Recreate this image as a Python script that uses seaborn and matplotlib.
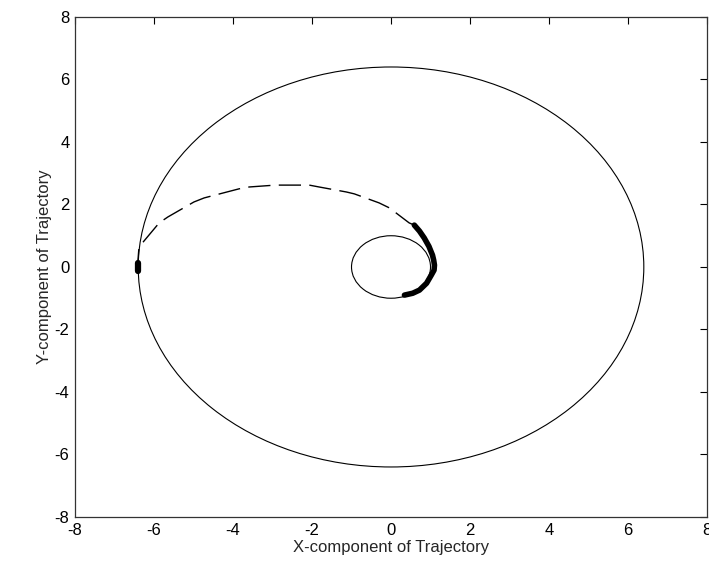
import matplotlib
matplotlib.use("Agg")
import matplotlib.pyplot as plt
import seaborn as sns
import numpy as np
import pandas as pd
from matplotlib.patches import Circle

sns.set_theme(style="white")
plt.rcParams['font.family'] = ['Liberation Sans', 'DejaVu Sans']
plt.rcParams['axes.unicode_minus'] = False

# Orbit radii
outer_radius = 6.4
inner_radius = 1.0

# Transfer trajectory, ordered from inner orbit outward
traj_x = [0.34, 0.55, 0.72, 0.90, 1.02, 1.09, 1.10, 1.08, 1.05, 0.96, 0.84,
          0.72, 0.59, 0.46, -0.04, -0.30, -0.93,
          -1.13, -1.82, -2.07, -2.93, -3.59, -3.85, -4.73, -4.99, -5.65, -5.87,
          -6.38, -6.42]
traj_y = [-0.90, -0.84, -0.74, -0.52, -0.26, -0.10, 0.06, 0.22, 0.38, 0.66, 0.93,
          1.15, 1.34, 1.41, 1.89, 2.05, 2.34,
          2.40, 2.56, 2.62, 2.62, 2.56, 2.50, 2.21, 2.08, 1.60, 1.41,
          0.64, 0.0]
n_thick = 13  # dense portion near the inner orbit

# Arrival point marker
arr_x = [-6.4, -6.4]
arr_y = [-0.12, 0.12]

traj = pd.DataFrame({"x": traj_x, "y": traj_y, "i": range(len(traj_x))})

fig = plt.figure(figsize=(7.09, 5.72), dpi=100)
ax = fig.add_axes([0.1058, 0.0962, 0.8914, 0.8741])

ax.add_patch(Circle((0, 0), outer_radius, fill=False, color="black", lw=0.8))
ax.add_patch(Circle((0, 0), inner_radius, fill=False, color="black", lw=0.8))

sns.lineplot(data=traj, x="x", y="y", sort=False, estimator=None, ax=ax,
             color="black", lw=1.0, dashes=False, linestyle=(0, (16, 6)))
sns.lineplot(data=traj.iloc[:n_thick], x="x", y="y", sort=False, estimator=None,
             ax=ax, color="black", lw=4.0, solid_capstyle="round",
             solid_joinstyle="round")
ax.plot(arr_x, arr_y, color="black", lw=4.5, solid_capstyle="round")

ax.set_xlim(-8, 8)
ax.set_ylim(-8, 8)
ax.set_xticks(np.arange(-8, 9, 2))
ax.set_yticks(np.arange(-8, 9, 2))
ax.tick_params(direction="in", length=5, width=0.8, colors="black",
               top=True, right=True, labelsize=12, pad=4)
for s in ax.spines.values():
    s.set_color("#333333")
    s.set_linewidth(0.9)
ax.set_xlabel("X-component of Trajectory", fontsize=12, labelpad=2)
ax.set_ylabel("Y-component of Trajectory", fontsize=12, labelpad=2)

fig.savefig("out.png", dpi=100)
